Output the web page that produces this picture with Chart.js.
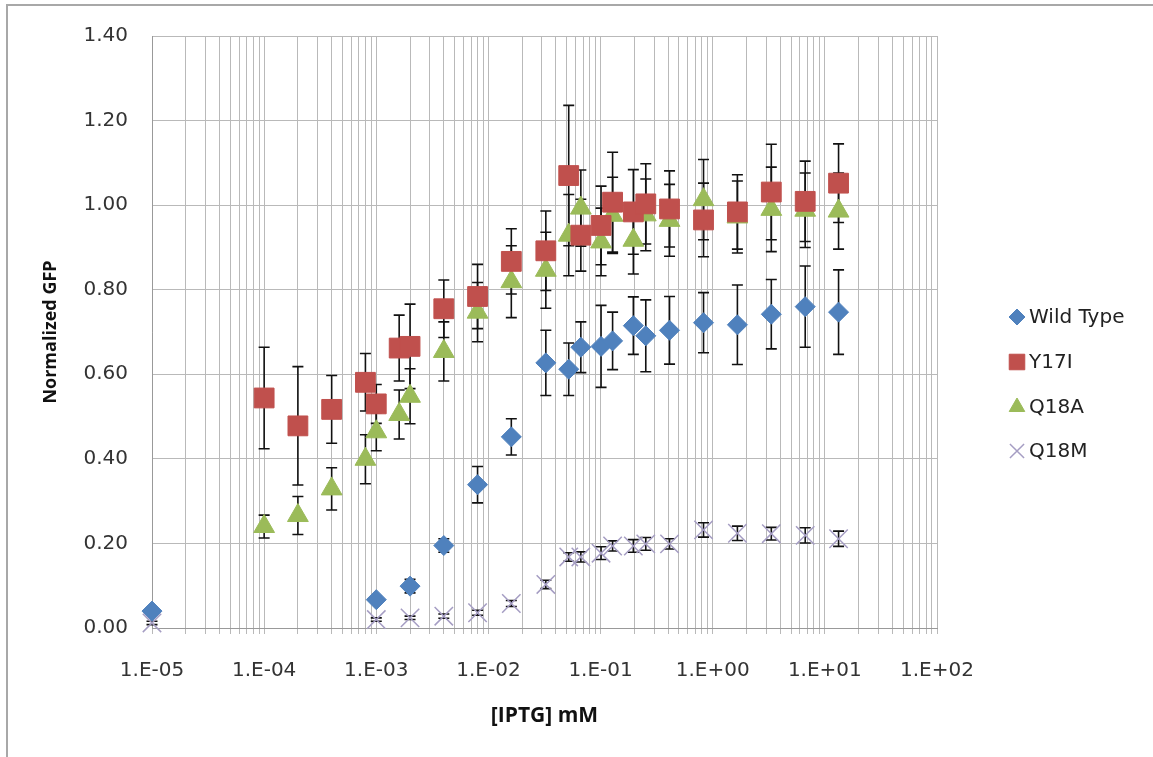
<!DOCTYPE html>
<html>
<head>
<meta charset="utf-8">
<title>Normalized GFP vs IPTG</title>
<script src="https://cdn.jsdelivr.net/npm/chart.js@4/dist/chart.umd.min.js"></script>
<style>
    body { margin: 0; background: #fff; }
    #wrap { position: relative; width: 1153px; height: 757px; }
</style>
</head>
<body>
<div id="wrap"><canvas id="gfpChart"></canvas></div>
<script>
// IPTG concentrations (mM) - wild type and Q18M share one dilution set
const concWT = [1e-5, 0.001, 0.002, 0.004, 0.008, 0.016, 0.0325, 0.052, 0.0667, 0.101, 0.128, 0.196, 0.253, 0.412, 0.828, 1.66, 3.33, 6.68, 13.25];
// Y17I and Q18A were measured on a longer series
const concMut = [0.0001, 0.0002, 0.0004, 0.0008, 0.001, 0.0016, 0.002, 0.004, 0.008, 0.016, 0.0325, 0.052, 0.0667, 0.101, 0.128, 0.196, 0.253, 0.412, 0.828, 1.66, 3.33, 6.68, 13.25];

const wildType = [0.040, 0.067, 0.099, 0.195, 0.339, 0.452, 0.627, 0.612, 0.664, 0.666, 0.679, 0.715, 0.691, 0.704, 0.722, 0.717, 0.742, 0.760, 0.747];
const wildTypeErr = [0.006, 0.008, 0.016, 0.016, 0.043, 0.043, 0.077, 0.062, 0.060, 0.097, 0.068, 0.068, 0.085, 0.080, 0.071, 0.094, 0.082, 0.096, 0.100];

const y17i = [0.544, 0.478, 0.517, 0.581, 0.530, 0.662, 0.666, 0.755, 0.784, 0.867, 0.892, 1.070, 0.929, 0.952, 1.007, 0.984, 1.003, 0.991, 0.965, 0.984, 1.031, 1.009, 1.052];
const y17iErr = [0.120, 0.140, 0.080, 0.068, 0.046, 0.078, 0.100, 0.068, 0.076, 0.077, 0.094, 0.166, 0.085, 0.093, 0.118, 0.100, 0.095, 0.090, 0.087, 0.088, 0.113, 0.095, 0.093];

const q18a = [0.240, 0.266, 0.329, 0.399, 0.464, 0.505, 0.548, 0.654, 0.747, 0.819, 0.846, 0.929, 0.993, 0.913, 0.976, 0.917, 0.977, 0.964, 1.013, 0.972, 0.990, 0.988, 0.986];
const q18aErr = [0.027, 0.045, 0.050, 0.058, 0.045, 0.058, 0.065, 0.070, 0.070, 0.085, 0.090, 0.096, 0.090, 0.080, 0.090, 0.080, 0.085, 0.085, 0.095, 0.085, 0.100, 0.088, 0.090];

const q18m = [0.012, 0.020, 0.024, 0.028, 0.036, 0.058, 0.103, 0.168, 0.168, 0.177, 0.194, 0.194, 0.199, 0.199, 0.232, 0.224, 0.223, 0.219, 0.211];
const q18mErr = [0.004, 0.004, 0.004, 0.005, 0.006, 0.007, 0.010, 0.010, 0.012, 0.015, 0.012, 0.015, 0.015, 0.012, 0.017, 0.017, 0.015, 0.018, 0.018];

// Axis ranges
const xDecades = [-5, -4, -3, -2, -1, 0, 1, 2];
const yTicks = [0, 0.2, 0.4, 0.6, 0.8, 1.0, 1.2, 1.4];

const FONT = "'DejaVu Sans', 'Liberation Sans', sans-serif";
const TITLE_FONT = "'Open Sans', 'Liberation Sans', sans-serif";
const GRID = '#b9b9b9';

function toPoints(xs, ys) {
    return xs.map((x, i) => ({ x: x, y: ys[i] }));
}

// Excel style exponent label, e.g. 1.E-03
function expLabel(value) {
    const e = Math.round(Math.log10(value));
    return '1.E' + (e < 0 ? '-' : '+') + String(Math.abs(e)).padStart(2, '0');
}

// White page with the thin grey frame round it
const framePlugin = {
    id: 'frame',
    beforeDraw(chart) {
        const ctx = chart.ctx;
        ctx.save();
        ctx.fillStyle = '#fff';
        ctx.fillRect(0, 0, chart.width, chart.height);
        ctx.strokeStyle = '#a8a8a8';
        ctx.lineWidth = 2;
        ctx.beginPath();
        ctx.moveTo(7, chart.height);
        ctx.lineTo(7, 5);
        ctx.lineTo(chart.width, 5);
        ctx.stroke();
        ctx.restore();
    }
};

// Vertical error bars with caps, drawn under the markers
const errorBarPlugin = {
    id: 'errorBars',
    beforeDatasetsDraw(chart) {
        const ctx = chart.ctx;
        const xScale = chart.scales.x;
        const yScale = chart.scales.y;
        ctx.save();
        ctx.strokeStyle = '#111';
        ctx.lineWidth = 1.6;
        chart.data.datasets.forEach(ds => {
            ds.data.forEach((p, i) => {
                const err = ds.errors[i];
                const px = xScale.getPixelForValue(p.x);
                const top = yScale.getPixelForValue(p.y + err);
                const bot = yScale.getPixelForValue(p.y - err);
                ctx.beginPath();
                ctx.moveTo(px, top);
                ctx.lineTo(px, bot);
                ctx.moveTo(px - 5.5, top);
                ctx.lineTo(px + 5.5, top);
                ctx.moveTo(px - 5.5, bot);
                ctx.lineTo(px + 5.5, bot);
                ctx.stroke();
            });
        });
        ctx.restore();
    }
};

// Legend on the right, drawn by hand so it sits away from the plot
const legendPlugin = {
    id: 'sideLegend',
    afterDraw(chart) {
        const ctx = chart.ctx;
        const x0 = 1017;
        const rows = [317, 362, 407, 451];
        const sizes = [8, 11, 9, 10];
        ctx.save();
        ctx.font = '20px ' + FONT;
        ctx.textAlign = 'left';
        ctx.textBaseline = 'middle';
        chart.data.datasets.forEach((ds, i) => {
            ctx.fillStyle = ds.pointBackgroundColor;
            ctx.strokeStyle = ds.pointBorderColor;
            ctx.lineWidth = ds.pointBorderWidth;
            Chart.helpers.drawPoint(ctx, {
                pointStyle: ds.pointStyle,
                radius: sizes[i],
                rotation: 0,
                borderWidth: ds.pointBorderWidth
            }, x0, rows[i]);
            ctx.fillStyle = '#222';
            ctx.fillText(ds.label, 1029, rows[i] + 1);
        });
        ctx.restore();
    }
};

const gfpChart = new Chart(document.getElementById('gfpChart'), {
    type: 'scatter',
    data: {
        datasets: [{
            label: 'Wild Type',
            data: toPoints(concWT, wildType),
            errors: wildTypeErr,
            pointStyle: 'rectRot',
            pointRadius: 10,
            pointBackgroundColor: '#4f81bd',
            pointBorderColor: '#4f81bd',
            pointBorderWidth: 1
        },
        {
            label: 'Y17I',
            data: toPoints(concMut, y17i),
            errors: y17iErr,
            pointStyle: 'rect',
            pointRadius: 14,
            pointBackgroundColor: '#c0504d',
            pointBorderColor: '#c0504d',
            pointBorderWidth: 1
        },
        {
            label: 'Q18A',
            data: toPoints(concMut, q18a),
            errors: q18aErr,
            pointStyle: 'triangle',
            pointRadius: 12,
            pointBackgroundColor: '#9bbb59',
            pointBorderColor: '#9bbb59',
            pointBorderWidth: 1
        },
        {
            label: 'Q18M',
            data: toPoints(concWT, q18m),
            errors: q18mErr,
            pointStyle: 'crossRot',
            pointRadius: 13,
            pointBackgroundColor: '#a59dc3',
            pointBorderColor: '#a59dc3',
            pointBorderWidth: 1.5
        }]
    },
    options: {
        responsive: true,
        maintainAspectRatio: false,
        animation: false,
        events: [],
        clip: false,
        layout: {
            padding: { top: 33, right: 216, left: 0, bottom: 0 }
        },
        plugins: {
            legend: { display: false },
            tooltip: { enabled: false }
        },
        scales: {
            x: {
                type: 'logarithmic',
                min: 1e-5,
                max: 1e2,
                afterBuildTicks(scale) {
                    const ticks = [];
                    xDecades.forEach(e => {
                        const steps = e === 2 ? 1 : 9;
                        for (let m = 1; m <= steps; m++) {
                            ticks.push({ value: m * Math.pow(10, e) });
                        }
                    });
                    scale.ticks = ticks;
                },
                afterFit(scale) {
                    scale.height = 129;
                },
                ticks: {
                    autoSkip: false,
                    maxRotation: 0,
                    minRotation: 0,
                    padding: 25,
                    color: '#333',
                    font: { family: FONT, size: 20 },
                    callback(value) {
                        const e = Math.log10(value);
                        return Math.abs(e - Math.round(e)) < 1e-6 ? expLabel(value) : '';
                    }
                },
                grid: {
                    color: GRID,
                    lineWidth: 1,
                    tickLength: 6,
                    drawTicks: true
                },
                border: { color: '#999', width: 1 },
                title: {
                    display: true,
                    text: '[IPTG] mM',
                    color: '#111',
                    font: { family: TITLE_FONT, size: 21, weight: 'bold' },
                    padding: { top: 0, bottom: 28 }
                }
            },
            y: {
                min: 0,
                max: 1.4,
                afterBuildTicks(scale) {
                    scale.ticks = yTicks.map(v => ({ value: v }));
                },
                afterFit(scale) {
                    scale.width = 152;
                },
                ticks: {
                    padding: 24,
                    color: '#333',
                    font: { family: FONT, size: 20 },
                    callback(value) {
                        return value.toFixed(2);
                    }
                },
                grid: {
                    color: GRID,
                    lineWidth: 1,
                    drawTicks: false
                },
                border: { color: '#999', width: 1 },
                title: {
                    display: true,
                    text: 'Normalized GFP',
                    color: '#111',
                    font: { family: TITLE_FONT, size: 18, weight: 'bold' },
                    padding: { top: 40, bottom: 0 }
                }
            }
        }
    },
    plugins: [framePlugin, errorBarPlugin, legendPlugin]
});
</script>
</body>
</html>
